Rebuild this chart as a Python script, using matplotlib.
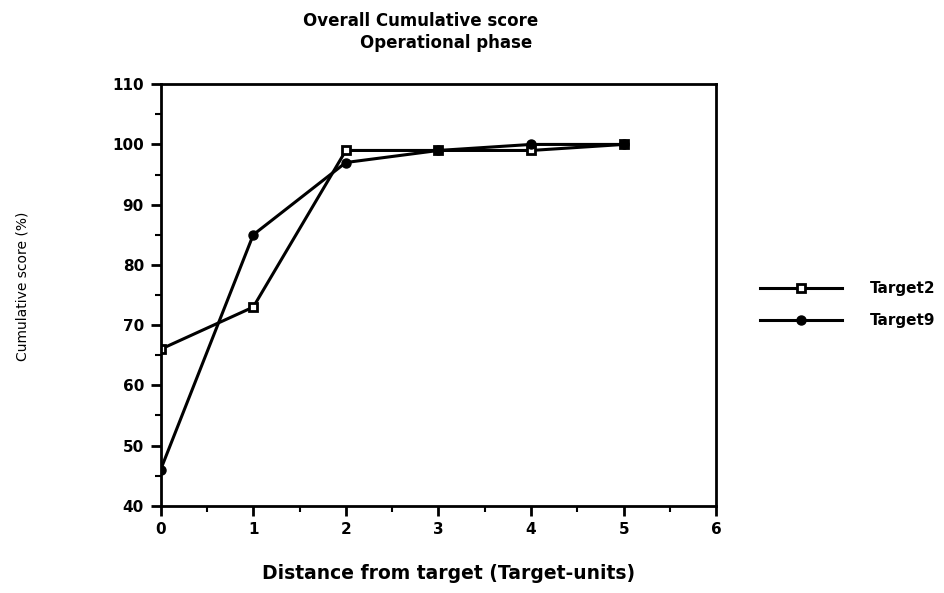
import matplotlib.pyplot as plt
from matplotlib.ticker import MultipleLocator

# distance from target (target-units)
distance = [0, 1, 2, 3, 4, 5]
target2 = [66, 73, 99, 99, 99, 100]
target9 = [46, 85, 97, 99, 100, 100]

plt.rcParams['font.family'] = 'DejaVu Sans'

fig = plt.figure(figsize=(9.45, 5.93), dpi=100)
ax = fig.add_axes([0.170, 0.147, 0.588, 0.711])

ax.plot(distance, target2, color='black', linewidth=2.2, marker='s',
        markersize=6, markerfacecolor='white', markeredgewidth=2,
        label='Target2')
ax.plot(distance, target9, color='black', linewidth=2.2, marker='o',
        markersize=6.5, label='Target9')

ax.set_xlim(0, 6)
ax.set_ylim(40, 110)
ax.xaxis.set_major_locator(MultipleLocator(1))
ax.xaxis.set_minor_locator(MultipleLocator(0.5))
ax.yaxis.set_major_locator(MultipleLocator(10))
ax.yaxis.set_minor_locator(MultipleLocator(5))
ax.tick_params(which='major', direction='out', length=7, width=2,
               labelsize=11, pad=5)
ax.tick_params(which='minor', direction='out', length=4, width=1.5)
for lab in ax.get_xticklabels() + ax.get_yticklabels():
    lab.set_fontweight('bold')
for s in ax.spines.values():
    s.set_linewidth(2)

ax.set_xlabel('Distance from target (Target-units)', fontsize=13.5,
              fontweight='bold')
ax.xaxis.set_label_coords(0.519, -0.137)
ax.set_ylabel('Cumulative score (%)', fontsize=10)
ax.yaxis.set_label_coords(-0.236, 0.52)

fig.text(0.445, 0.965, 'Overall Cumulative score', ha='center',
         va='center', fontsize=12, fontweight='bold')
fig.text(0.4725, 0.928, 'Operational phase', ha='center', va='center',
         fontsize=12, fontweight='bold')

leg = ax.legend(loc='center left', bbox_to_anchor=(1.067, 0.477),
                borderaxespad=0, frameon=False,
                prop={'size': 11, 'weight': 'bold'},
                handlelength=5.4, handletextpad=1.8, labelspacing=1.1)

plt.savefig('out.png', dpi=100)
